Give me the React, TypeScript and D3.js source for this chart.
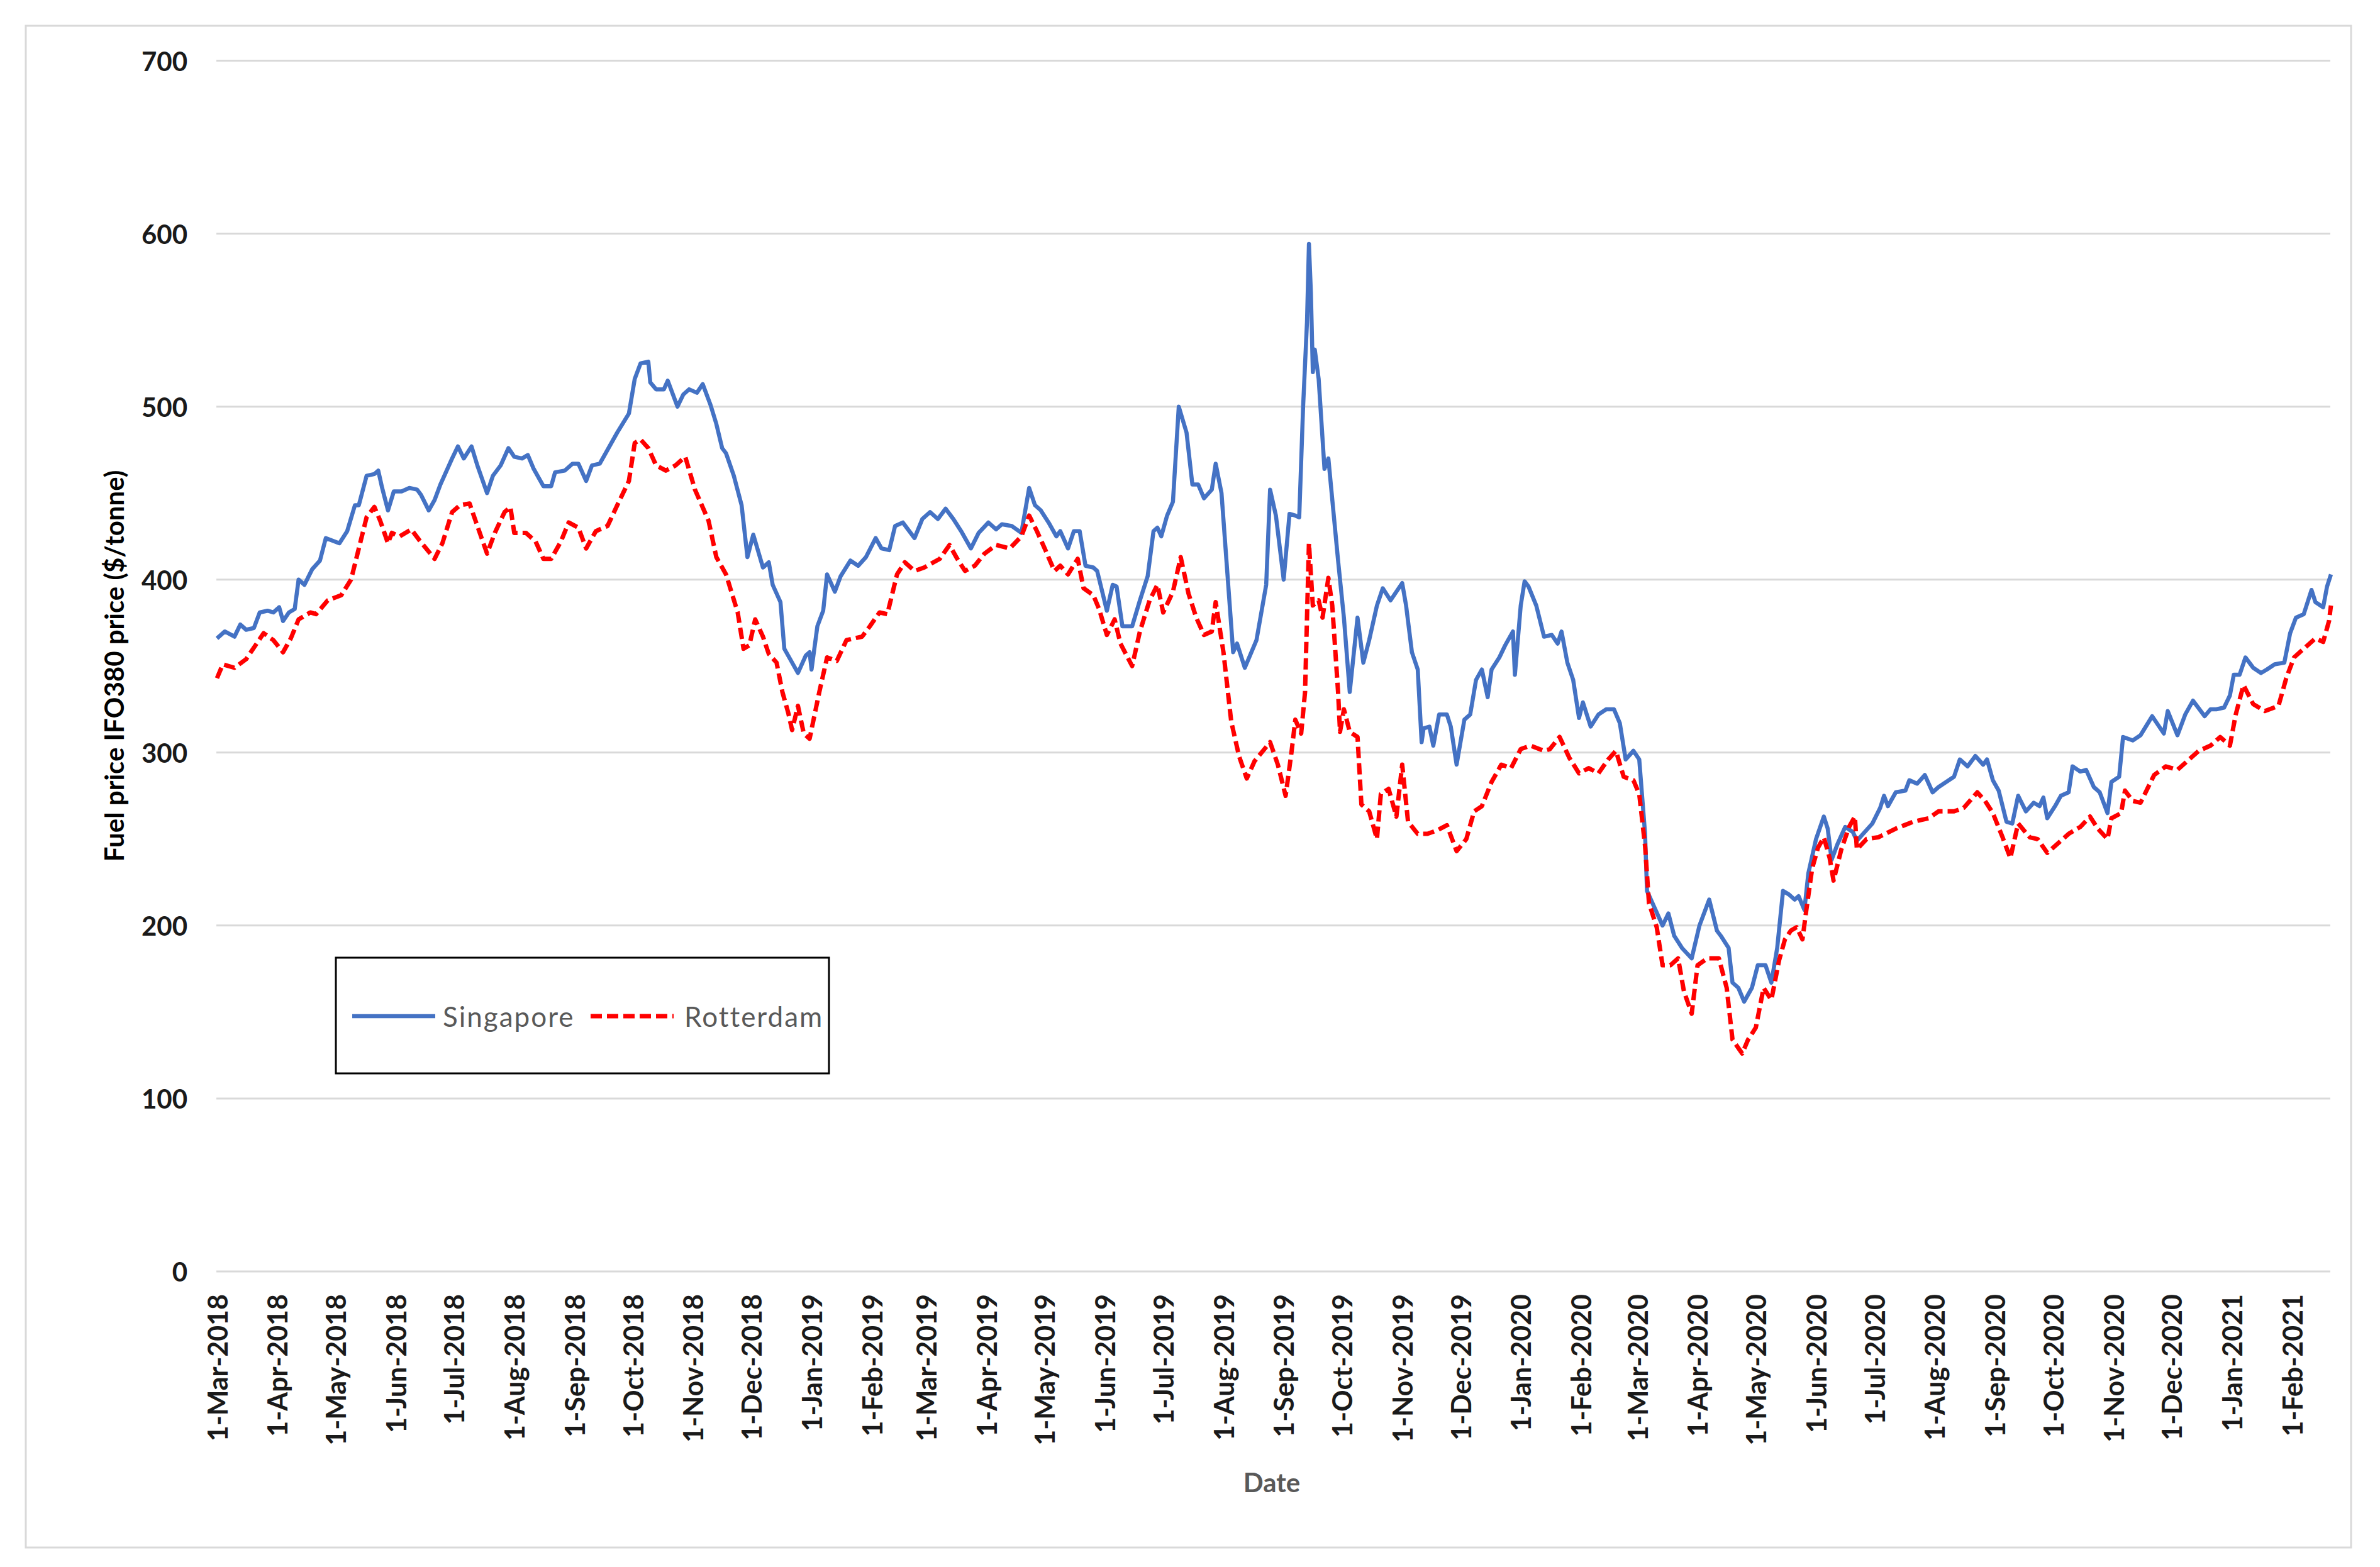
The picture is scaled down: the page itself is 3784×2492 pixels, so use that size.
import React from "react";
import * as d3 from "d3";

// days counted from 1-Mar-2018
const startDate = new Date(2018, 2, 1);
const lastDay = 1088;

const sgDays = [0,4,9,12,15,19,22,26,29,32,34,37,40,42,45,49,53,56,63,67,71,73,77,81,83,85,88,91,95,99,103,105,109,112,115,121,124,127,131,134,139,142,146,150,153,157,160,163,168,172,174,179,183,186,190,193,197,201,206,212,215,218,222,223,226,230,232,237,240,243,247,250,254,257,260,262,266,270,273,276,281,284,286,290,292,295,299,303,305,306,309,312,314,318,321,326,330,334,339,342,346,349,353,359,363,367,371,375,379,383,388,392,397,401,404,409,414,418,421,424,428,432,434,438,441,444,447,451,453,458,461,463,466,471,475,479,482,484,486,489,492,495,499,502,505,508,512,514,517,523,525,529,535,540,542,545,549,552,555,557,559,561,562,563,564,565,567,570,572,577,580,583,587,590,593,597,600,604,610,612,615,618,620,621,624,626,629,633,635,638,642,645,648,651,654,656,660,663,667,668,671,673,675,679,683,687,690,692,695,698,701,703,707,711,715,719,722,725,729,732,735,736,740,744,747,750,754,759,763,768,772,774,778,780,783,786,790,793,797,800,803,806,809,812,814,817,819,823,827,829,831,834,838,842,844,848,852,856,858,860,864,869,871,875,879,883,886,890,894,897,901,905,909,911,914,917,921,924,927,931,935,938,940,942,946,949,953,955,959,962,966,969,973,975,979,981,986,990,996,1002,1004,1009,1013,1017,1023,1026,1029,1033,1036,1038,1041,1044,1048,1052,1055,1059,1064,1067,1070,1074,1078,1080,1084,1086,1088];
const sgPrice = [366,370,367,374,371,372,381,382,381,384,376,381,383,400,397,406,411,424,421,428,443,443,460,461,463,453,440,451,451,453,452,449,440,446,455,470,477,470,477,466,450,460,466,476,471,470,472,464,454,454,462,463,467,467,457,466,467,475,485,496,516,525,526,514,510,510,515,500,507,510,508,513,501,490,476,473,460,443,413,426,407,410,397,387,360,354,346,356,358,348,373,382,403,393,402,411,408,413,424,418,417,431,433,424,435,439,435,441,435,428,418,427,433,429,432,431,427,453,443,440,433,425,428,418,428,428,408,407,405,382,397,396,373,373,388,402,428,430,425,437,445,500,485,455,455,447,452,467,450,358,363,349,365,397,452,437,400,438,437,436,500,549,594,566,520,533,516,464,470,411,378,335,378,352,365,385,395,388,398,385,358,348,306,314,315,304,322,322,315,293,319,322,342,348,332,348,355,362,370,345,385,399,396,385,367,368,363,370,352,342,320,329,315,322,325,325,317,296,301,296,253,220,210,200,207,194,187,181,200,215,197,194,187,167,164,156,164,177,177,167,187,220,218,215,217,209,230,250,263,256,238,247,257,254,249,254,259,268,275,269,277,278,284,282,287,277,280,283,286,296,292,298,293,296,284,278,260,259,275,266,271,269,274,262,269,275,277,292,289,290,280,277,265,283,286,309,307,310,321,311,324,310,322,330,321,325,325,326,333,345,345,355,349,346,348,351,352,369,378,380,394,387,384,396,403];

const rdDays = [0,3,9,15,24,29,34,38,42,48,51,57,64,69,73,77,81,84,88,90,94,100,104,112,116,121,125,130,134,139,143,148,151,153,159,164,168,172,177,181,186,190,195,201,206,212,215,218,222,226,231,236,241,246,253,257,262,268,271,274,277,281,284,288,291,294,296,299,302,305,310,314,319,324,332,336,341,345,350,354,359,364,372,377,381,385,390,395,401,408,414,418,422,426,431,434,438,443,446,451,454,458,462,465,471,475,480,484,487,492,496,500,504,508,512,514,518,522,526,530,534,542,546,550,553,555,558,560,562,564,567,569,572,574,577,578,580,583,587,589,593,597,599,603,607,610,613,618,623,628,633,638,643,647,651,656,661,666,671,676,683,686,691,696,701,706,711,716,720,724,729,732,735,737,741,744,748,752,755,759,762,767,773,777,780,785,788,792,796,800,804,807,810,813,816,818,821,824,827,830,832,836,840,843,844,849,855,864,873,881,886,894,899,906,910,914,919,923,927,933,937,942,948,953,959,964,968,973,975,980,982,986,990,997,1003,1009,1015,1020,1026,1031,1036,1039,1043,1048,1054,1061,1065,1069,1074,1080,1084,1087,1088];
const rdPrice = [343,351,349,354,369,365,358,366,377,381,380,388,391,400,418,436,442,434,421,427,425,429,423,412,421,439,443,444,431,415,427,439,442,427,427,422,412,412,422,433,430,418,428,431,443,457,479,481,476,466,463,466,471,452,434,413,403,381,360,362,377,367,357,352,335,323,313,327,311,308,335,355,353,365,367,373,381,380,403,410,405,407,412,420,412,405,408,415,420,418,425,437,428,418,405,408,403,412,395,391,383,368,377,363,350,370,388,397,381,393,413,392,378,368,370,387,358,318,298,285,295,306,293,275,300,319,311,335,421,385,388,378,401,385,335,312,325,312,309,270,266,250,276,279,263,293,260,253,253,255,258,243,250,266,269,283,293,291,302,304,301,302,309,297,288,291,288,296,301,286,284,276,246,213,199,177,177,181,162,149,177,181,181,164,134,126,134,141,164,157,180,192,197,199,192,209,233,245,251,239,226,244,257,263,244,250,251,256,260,262,266,266,268,277,272,265,251,239,259,251,250,242,248,253,257,263,256,250,262,265,278,272,271,287,292,290,296,301,304,309,304,322,339,328,324,327,343,355,360,366,364,376,385];

const yTicks = [0, 100, 200, 300, 400, 500, 600, 700];

const W = 3784;
const H = 2492;

export default function App() {
  const x = d3.scaleTime()
    .domain([startDate, d3.timeDay.offset(startDate, lastDay)])
    .range([345, 3706]);
  const y = d3.scaleLinear().domain([0, 700]).range([2022, 96.5]);

  const months = d3.timeMonth.range(startDate, d3.timeDay.offset(startDate, lastDay));
  const fmt = d3.timeFormat("%-d-%b-%Y");

  const sg = sgDays.map((d, i) => ({ date: d3.timeDay.offset(startDate, d), v: sgPrice[i] }));
  const rd = rdDays.map((d, i) => ({ date: d3.timeDay.offset(startDate, d), v: rdPrice[i] }));

  const line = d3.line<{ date: Date; v: number }>()
    .x(d => x(d.date))
    .y(d => y(d.v));

  const font = "Lato, 'Open Sans', sans-serif";

  return (
    <svg width={W} height={H} style={{ position: "absolute", left: 0, top: 0, background: "#fff" }} fontFamily={font}>
      <rect x={0} y={0} width={W} height={H} fill="#fff" />
      <rect x={41} y={41} width={3697} height={2420} fill="#fff" stroke="#d9d9d9" strokeWidth={3} />

      {/* grid + y labels */}
      {yTicks.map(t => (
        <g key={t}>
          <line x1={344} x2={3705} y1={y(t)} y2={y(t)} stroke="#d9d9d9" strokeWidth={3} />
          <text x={298} y={y(t)} textAnchor="end" dominantBaseline="central" fontSize={42} fontWeight={700} fill="#1a1a1a">{t}</text>
        </g>
      ))}

      {/* x labels */}
      {months.map(m => (
        <text key={+m} transform={`translate(${x(m)},2058) rotate(-90)`} textAnchor="end" dominantBaseline="central"
          fontSize={43} fontWeight={700} fill="#1a1a1a">{fmt(m)}</text>
      ))}

      <path d={line(sg) || ""} fill="none" stroke="#4472C4" strokeWidth={6.5} strokeLinejoin="round" />
      <path d={line(rd) || ""} fill="none" stroke="#FF0000" strokeWidth={7} strokeDasharray="18 8" strokeLinejoin="round" />

      <text transform="translate(181,1059) rotate(-90)" textAnchor="middle" dominantBaseline="central"
        fontSize={42} fontWeight={700} fill="#000">Fuel price IFO380 price ($/tonne)</text>
      <text x={2022} y={2357} textAnchor="middle" dominantBaseline="central" fontSize={42} fontWeight={700} fill="#595959">Date</text>

      {/* legend */}
      <rect x={534} y={1523} width={784} height={184} fill="#fff" stroke="#000" strokeWidth={3} />
      <line x1={560} x2={692} y1={1616} y2={1616} stroke="#4472C4" strokeWidth={6.5} />
      <text x={704} y={1616} dominantBaseline="central" fontSize={44} fill="#595959" letterSpacing={2}>Singapore</text>
      <line x1={939} x2={1071} y1={1616} y2={1616} stroke="#FF0000" strokeWidth={7} strokeDasharray="18 8" />
      <text x={1088} y={1616} dominantBaseline="central" fontSize={44} fill="#595959" letterSpacing={2}>Rotterdam</text>
    </svg>
  );
}
